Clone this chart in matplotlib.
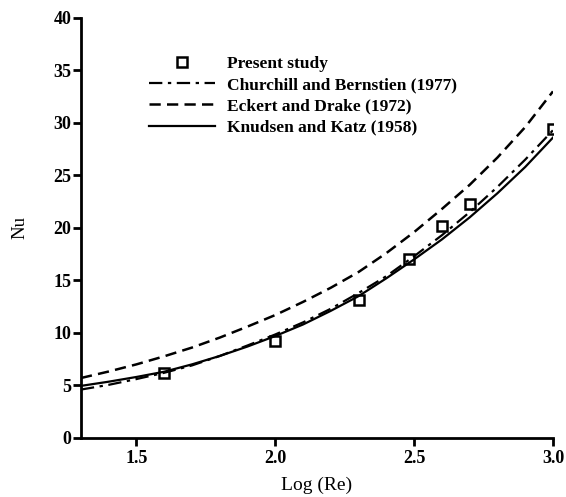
import matplotlib
matplotlib.use("Agg")
import matplotlib.pyplot as plt

# Present study (measured points)
study_x = [1.6, 2.0, 2.3, 2.48, 2.6, 2.7, 3.0]
study_nu = [6.2, 9.2, 13.1, 17.0, 20.2, 22.3, 29.4]

# correlation curves
curve_x = [1.3, 1.4, 1.5, 1.6, 1.7, 1.8, 1.9, 2.0, 2.1, 2.2,
           2.3, 2.4, 2.5, 2.6, 2.7, 2.8, 2.9, 3.0]
churchill_nu = [4.6, 5.05, 5.6, 6.2, 6.9, 7.8, 8.8, 9.85, 11.0, 12.3,
                13.8, 15.4, 17.3, 19.3, 21.5, 23.9, 26.5, 29.3]
eckert_nu = [5.7, 6.32, 7.0, 7.77, 8.6, 9.55, 10.6, 11.7, 12.95, 14.3,
             15.8, 17.6, 19.6, 21.8, 24.1, 26.7, 29.6, 33.0]
knudsen_nu = [4.95, 5.35, 5.8, 6.3, 7.0, 7.8, 8.7, 9.7, 10.8, 12.1,
              13.5, 15.2, 17.0, 18.9, 21.0, 23.3, 25.8, 28.6]

x_ticks = [1.5, 2.0, 2.5, 3.0]
y_ticks = [0, 5, 10, 15, 20, 25, 30, 35, 40]

plt.rcParams["font.family"] = ["Liberation Serif", "DejaVu Serif"]

fig = plt.figure(figsize=(5.66, 4.97), dpi=100)
ax = fig.add_axes([0.143, 0.119, 0.834, 0.845])

ax.plot(study_x, study_nu, linestyle="none", marker="s", markersize=7,
        markerfacecolor="white", markeredgecolor="black", markeredgewidth=1.8,
        label="Present study")
ax.plot(curve_x, churchill_nu, color="black", linewidth=1.6,
        linestyle=(0, (6, 2.5, 1.5, 2.5)), label="Churchill and Bernstien (1977)")
ax.plot(curve_x, eckert_nu, color="black", linewidth=1.8,
        linestyle=(0, (4.5, 2.5)), label="Eckert and Drake (1972)")
ax.plot(curve_x, knudsen_nu, color="black", linewidth=1.6,
        label="Knudsen and Katz (1958)")

ax.set_xlim(1.3, 3.0)
ax.set_ylim(0, 40)
ax.set_xticks(x_ticks)
ax.set_xticklabels([f"{v:.1f}" for v in x_ticks])
ax.set_yticks(y_ticks)

for side in ("top", "right"):
    ax.spines[side].set_visible(False)
for side in ("left", "bottom"):
    ax.spines[side].set_linewidth(2)

ax.tick_params(direction="out", length=6, width=2, labelsize=13, pad=1)
ax.tick_params(axis="x", pad=3)
for lab in ax.get_xticklabels() + ax.get_yticklabels():
    lab.set_fontweight("bold")

ax.set_xlabel("Log (Re)", fontsize=14, labelpad=7)
ax.set_ylabel("Nu", fontsize=13.5, labelpad=18)

leg = ax.legend(loc="upper left", bbox_to_anchor=(0.13, 0.927), frameon=False,
                prop={"size": 12.5, "weight": "bold"}, handlelength=3.8,
                handletextpad=0.7, labelspacing=0.3, borderaxespad=0)

fig.savefig("out.png", dpi=100)
